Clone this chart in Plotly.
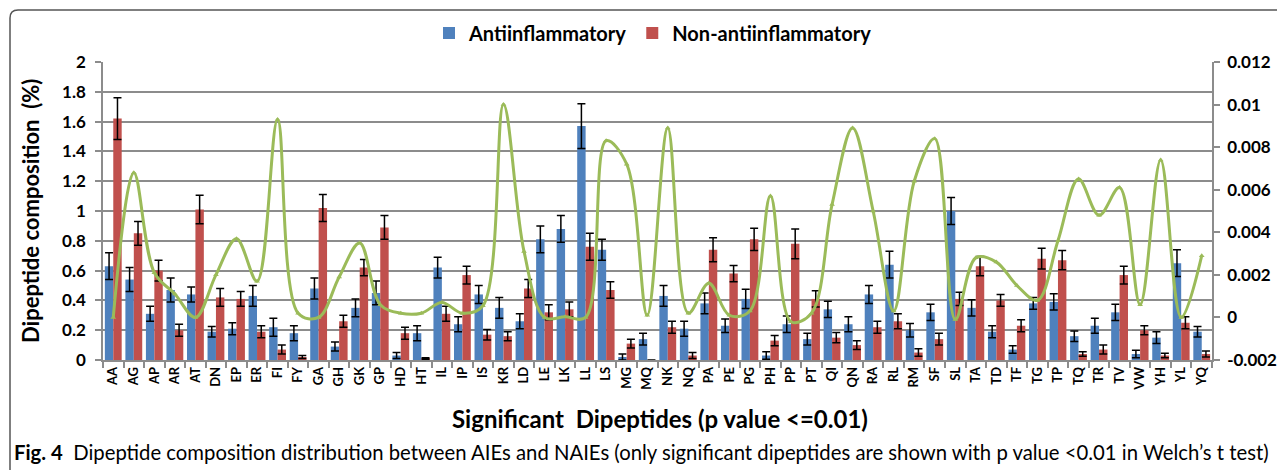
import plotly.graph_objects as go

categories = ["AA","AG","AP","AR","AT","DN","EP","ER","FI","FY","GA","GH","GK","GP","HD","HT",
              "IL","IP","IS","KR","LD","LE","LK","LL","LS","MG","MQ","NK","NQ","PA","PE","PG",
              "PH","PP","PT","QI","QN","RA","RL","RM","SF","SL","TA","TD","TF","TG","TP","TQ",
              "TR","TV","VW","YH","YL","YQ"]

anti = [0.63,0.54,0.31,0.47,0.44,0.19,0.21,0.43,0.22,0.18,0.48,0.09,0.35,0.45,0.03,0.18,
        0.62,0.24,0.44,0.35,0.26,0.81,0.88,1.57,0.74,0.02,0.14,0.43,0.21,0.38,0.23,0.41,
        0.03,0.24,0.14,0.34,0.24,0.44,0.64,0.20,0.32,1.00,0.35,0.19,0.07,0.38,0.39,0.16,
        0.23,0.32,0.04,0.15,0.65,0.19]
anti_err = [0.09,0.08,0.05,0.08,0.05,0.035,0.04,0.07,0.06,0.05,0.07,0.03,0.06,0.08,0.02,0.05,
            0.07,0.05,0.06,0.07,0.05,0.09,0.09,0.15,0.07,0.02,0.04,0.07,0.05,0.07,0.045,0.065,
            0.025,0.055,0.04,0.055,0.05,0.06,0.09,0.045,0.055,0.09,0.055,0.04,0.025,0.04,0.055,0.035,
            0.05,0.055,0.025,0.04,0.09,0.035]

non_anti = [1.62,0.85,0.60,0.20,1.01,0.42,0.41,0.19,0.07,0.02,1.02,0.26,0.62,0.89,0.18,0.01,
            0.31,0.57,0.17,0.16,0.48,0.32,0.34,0.76,0.47,0.11,0.0,0.22,0.03,0.74,0.58,0.81,
            0.13,0.78,0.41,0.15,0.10,0.22,0.26,0.05,0.14,0.41,0.63,0.40,0.23,0.68,0.67,0.04,
            0.07,0.57,0.20,0.03,0.25,0.04]
non_err = [0.14,0.08,0.07,0.04,0.095,0.06,0.05,0.04,0.03,0.01,0.09,0.04,0.055,0.08,0.04,0.005,
           0.05,0.06,0.035,0.03,0.06,0.05,0.05,0.09,0.055,0.03,None,0.04,0.02,0.08,0.055,0.075,
           0.035,0.1,0.055,0.035,0.03,0.04,0.05,0.025,0.04,0.045,0.065,0.04,0.04,0.07,0.065,0.015,
           0.03,0.06,0.03,0.015,0.04,0.02]

line_values = [0.0,0.0068,0.0021,0.0011,0.0,0.002,0.0037,0.0017,0.0093,0.0002,0.0,0.0019,0.0035,0.0006,0.0002,0.0002,
               0.0007,0.0002,0.00055,0.0100,0.0031,0.0,0.00003,0.0,0.0083,0.0072,0.0001,0.0089,0.0002,0.0016,0.0001,0.0003,
               0.0057,-0.0002,0.0002,0.0053,0.0089,0.0050,0.0003,0.0064,0.0084,-0.0001,0.0028,0.0026,0.0015,0.0008,0.0036,0.0065,
               0.0048,0.0061,0.0006,0.0074,0.0,0.0029]

left_ticks = [0,0.2,0.4,0.6,0.8,1,1.2,1.4,1.6,1.8,2]
left_labels = ["0","0.2","0.4","0.6","0.8","1","1.2","1.4","1.6","1.8","2"]
right_ticks = [-0.002,0,0.002,0.004,0.006,0.008,0.01,0.012]
right_labels = ["-0.002","0","0.002","0.004","0.006","0.008","0.01","0.012"]

BLUE = "#4F81BD"
RED = "#C0504D"
GREEN = "#9BBB59"
GRID = "#8C8C8C"
FONT = "Lato"

# page body has an 8px margin; work in page pixels and convert
OFF = 8
W, H = 1285 - OFF, 470 - OFF
PL, PR, PT_, PB = 103, 1212, 62, 360          # plot area in page pixels
L, R, T, B = PL - OFF, W - (PR - OFF), PT_ - OFF, H - (PB - OFF)
pw, ph = PR - PL, PB - PT_

def px(x):
    return (x - PL) / pw

def py(y):
    return (PB - y) / ph

fig = go.Figure()
err_style = dict(type="data", visible=True, color="black", thickness=1.5, width=4)
fig.add_trace(go.Bar(x=categories, y=anti, name="Antiinflammatory", marker_color=BLUE,
                     marker_line_width=0,
                     error_y=dict(array=anti_err, **err_style)))
fig.add_trace(go.Bar(x=categories, y=non_anti, name="Non-antiinflammatory", marker_color=RED,
                     marker_line_width=0,
                     error_y=dict(array=non_err, **err_style)))
fig.add_trace(go.Scatter(x=categories, y=line_values, yaxis="y2", mode="lines+markers",
                         line=dict(color=GREEN, width=3, shape="spline", smoothing=1.0),
                         marker=dict(symbol="triangle-up", size=5, color=GREEN),
                         showlegend=False))

fig.update_layout(
    template="none",
    width=W, height=H,
    margin=dict(l=L, r=R, t=T, b=B, autoexpand=False),
    paper_bgcolor="white", plot_bgcolor="white",
    barmode="group", bargap=0.18, bargroupgap=0.0,
    font=dict(family=FONT, color="black"),
    showlegend=True,
    legend=dict(orientation="h", x=px(653), y=py(33), xanchor="center", yanchor="middle",
                font=dict(size=20, family=FONT, weight="bold"), itemwidth=30,
                traceorder="normal", bgcolor="rgba(0,0,0,0)"),
    xaxis=dict(type="category", range=[-0.5, len(categories) - 0.5], autorange=False,
               tickangle=-90, tickfont=dict(size=13, family=FONT, weight="bold"),
               automargin=False,
               showline=True, linecolor=GRID, linewidth=1.5, ticks="outside", tickson="boundaries",
               ticklen=6, tickcolor=GRID, tickwidth=1.5, showgrid=False, zeroline=False),
    yaxis=dict(range=[0, 2], tickvals=left_ticks, ticktext=left_labels, automargin=False,
               tickfont=dict(size=17, family=FONT, weight="bold"), ticklabelstandoff=6,
               showgrid=True, gridcolor=GRID, gridwidth=1.5, zeroline=False,
               showline=True, linecolor=GRID, linewidth=1.5,
               ticks="outside", ticklen=6, tickcolor=GRID, tickwidth=1.5),
    yaxis2=dict(range=[-0.002, 0.012], tickvals=right_ticks, ticktext=right_labels,
                overlaying="y", side="right", showgrid=False, zeroline=False, automargin=False,
                tickfont=dict(size=17, family=FONT, weight="bold"), ticklabelstandoff=4,
                showline=True, linecolor=GRID, linewidth=1.5,
                ticks="outside", ticklen=6, tickcolor=GRID, tickwidth=1.5),
)

fig.add_annotation(text="Dipeptide composition  (%)", xref="paper", yref="paper",
                   x=px(30), y=0.5, textangle=-90, showarrow=False,
                   xanchor="center", yanchor="middle",
                   font=dict(size=22, family=FONT, weight="bold"))
fig.add_annotation(text="Significant  Dipeptides (p value <=0.01)", xref="paper", yref="paper",
                   x=px(660), y=py(418), showarrow=False, xanchor="center", yanchor="middle",
                   font=dict(size=24, family=FONT, weight="bold"))
fig.add_annotation(text="<b>Fig. 4</b>  Dipeptide composition distribution between AIEs and NAIEs (only significant dipeptides are shown with p value <0.01 in Welch\u2019s t test)",
                   xref="paper", yref="paper", x=px(12), y=py(452), xanchor="left", yanchor="middle",
                   showarrow=False, font=dict(size=20.3, family="Lato"))

x0, x1, xr = px(10), px(18), px(1300)
y0, y1, yt = py(480), py(18), py(10)
fig.add_shape(type="path", xref="paper", yref="paper",
              path=f"M {x0},{y0} L {x0},{y1} Q {x0},{yt} {x1},{yt} L {xr},{yt}",
              line=dict(color="#555555", width=1.5))

fig.write_html("out.html")
